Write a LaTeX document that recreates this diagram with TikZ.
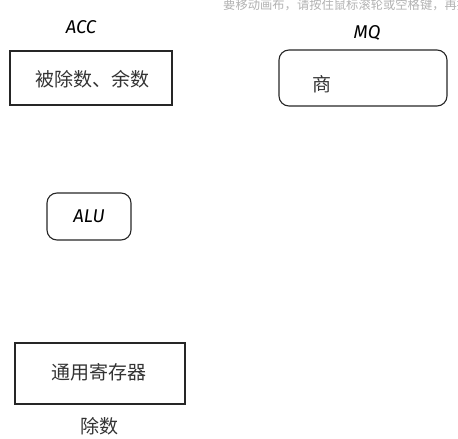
\documentclass[tikz,border=0pt]{standalone}
\usepackage{fontspec}
\newfontfamily\cjk{Noto Sans CJK SC}
\newfontfamily\hand{Fira Sans}
\tikzset{
  box/.style={draw=black!85, line width=1.1pt},
  rbox/.style={draw=black!85, line width=1.1pt, rounded corners=10pt},
  cjktext/.style={font=\cjk\fontsize{19}{22}\selectfont, text=black!80},
  handtext/.style={font=\hand\itshape\fontsize{18.5}{20}\selectfont, text=black},
}
\begin{document}
\begin{tikzpicture}[x=1pt,y=-1pt]
\useasboundingbox (0,0) rectangle (458,439);
\begin{scope}
\clip (0,0) rectangle (458,439);
\node[anchor=west, inner sep=0pt, font=\cjk\fontsize{12.3}{14}\selectfont, text=black!30] (hint) at (223,5) {要移动画布，请按住鼠标滚轮或空格键，再拖};
\end{scope}
\node[handtext] (acc) at (81,27) {ACC};
\node[handtext] (mq) at (367,33) {MQ};
\draw[box] (10,51) rectangle (172,105);
\node[cjktext] (dividend) at (92,79) {被除数、余数};
\draw[rbox] (279,50) rectangle (447,106);
\node[cjktext] (quot) at (322,84) {商};
\draw[rbox] (47,193) rectangle (131,240);
\node[handtext] (alu) at (89,216) {ALU};
\draw[box] (15,343) rectangle (185,404);
\node[cjktext] (gpr) at (99,372) {通用寄存器};
\node[cjktext] (divisor) at (99,426) {除数};
\end{tikzpicture}
\end{document}
